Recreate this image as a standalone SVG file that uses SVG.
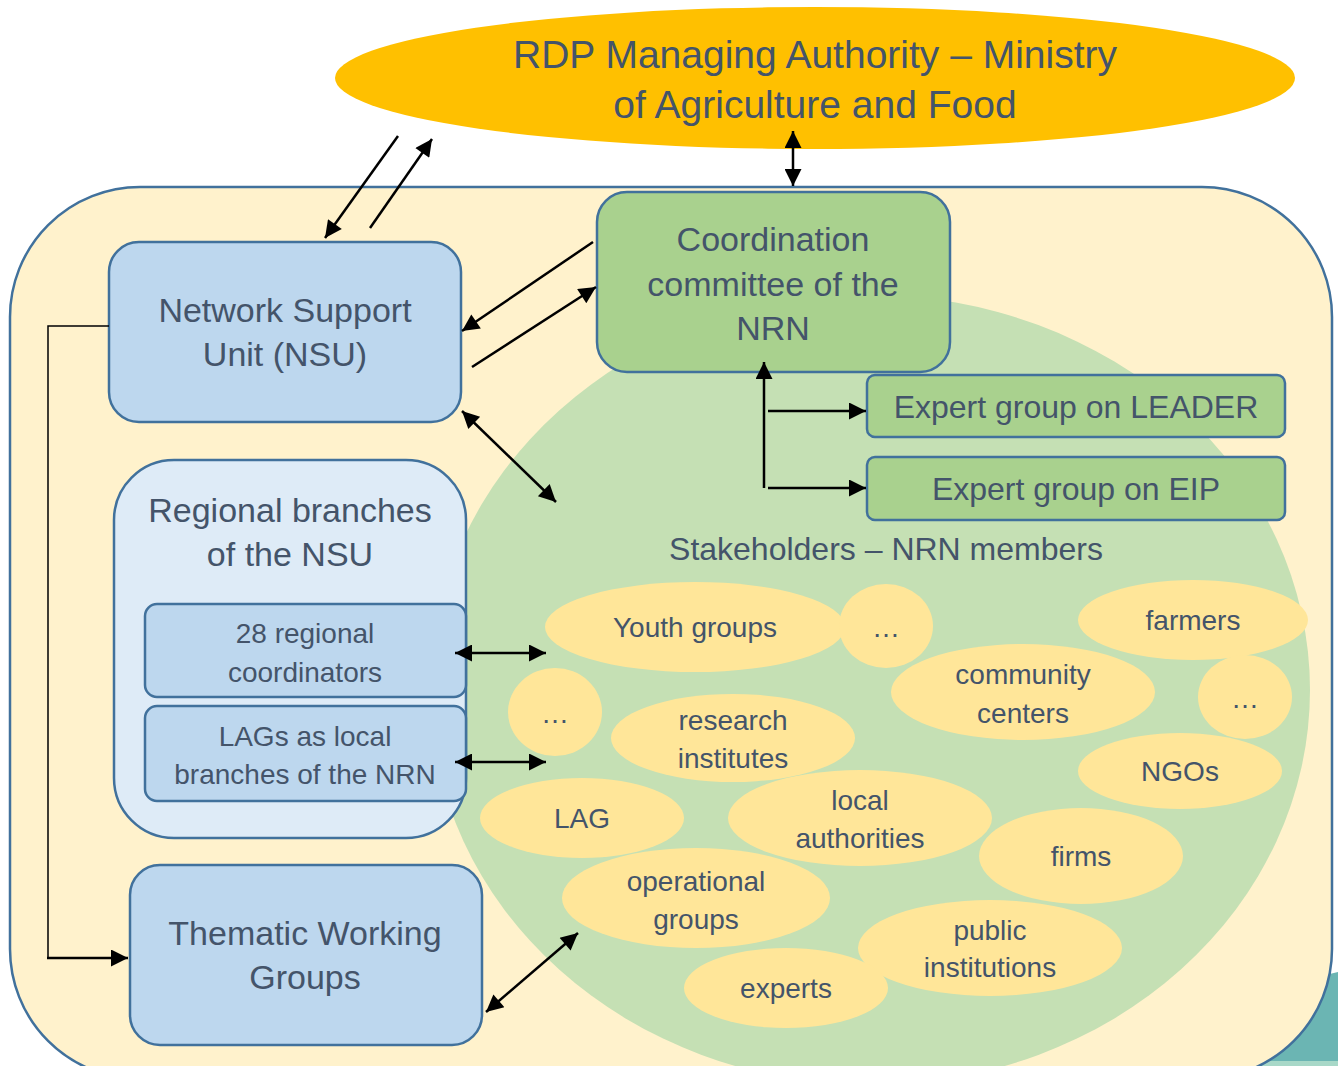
<svg xmlns="http://www.w3.org/2000/svg" width="1338" height="1066" viewBox="0 0 1338 1066">
<defs>
<style>
text{font-family:"Liberation Sans",Arial,sans-serif;fill:#44546a;text-anchor:middle}
.blue{fill:#bdd7ee;stroke:#41719c;stroke-width:2.5}
.green{fill:#a9d18e;stroke:#41719c;stroke-width:2.5}
.st{fill:#ffe699}
.big{font-size:34px}
.mid{font-size:28px}
.con line,.con path{stroke:#000;stroke-width:2.5;fill:none}
</style>
<marker id="ah" viewBox="0 0 10 10" refX="10" refY="5" markerWidth="21" markerHeight="17" markerUnits="userSpaceOnUse" orient="auto-start-reverse">
<path d="M0,0 L10,5 L0,10 z" fill="#000"/>
</marker>
</defs>
<rect width="1338" height="1066" fill="#fff"/>
<polygon points="1180,1010 1338,972 1338,1066 1180,1066" fill="#6bb5b3"/>
<rect x="1180" y="1061" width="158" height="5" fill="#a8d8c8"/>
<g id="outer">
<rect x="10" y="187" width="1322" height="892" rx="130" ry="130" fill="#fff2cc" stroke="#41719c" stroke-width="2.5"/>
</g>
<g id="stakeholders-area">
<ellipse cx="870" cy="690" rx="440" ry="395" fill="#c5e0b4"/>
<text x="886" y="560" style="font-size:32px">Stakeholders – NRN members</text>
</g>
<g id="managing-authority">
<ellipse cx="815" cy="78" rx="480" ry="71" fill="#ffc000"/>
<text x="815" y="68" style="font-size:39px">RDP Managing Authority – Ministry</text>
<text x="815" y="118" style="font-size:39px">of Agriculture and Food</text>
</g>
<g id="coordination">
<rect class="green" x="597" y="192" width="353" height="180" rx="30"/>
<text class="big" x="773" y="251">Coordination</text>
<text class="big" x="773" y="296">committee of the</text>
<text class="big" x="773" y="340">NRN</text>
</g>
<g id="nsu">
<rect class="blue" x="109" y="242" width="352" height="180" rx="30"/>
<text class="big" x="285" y="322">Network Support</text>
<text class="big" x="285" y="366">Unit (NSU)</text>
</g>
<g id="regional">
<rect x="114" y="460" width="352" height="378" rx="60" fill="#deebf7" stroke="#41719c" stroke-width="2.5"/>
<text class="big" x="290" y="522">Regional branches</text>
<text class="big" x="290" y="566">of the NSU</text>
</g>
<g id="coordinators">
<rect class="blue" x="145" y="604" width="321" height="93" rx="12"/>
<text class="mid" x="305" y="643">28 regional</text>
<text class="mid" x="305" y="682">coordinators</text>
</g>
<g id="lags">
<rect class="blue" x="145" y="706" width="321" height="95" rx="12"/>
<text class="mid" x="305" y="746">LAGs as local</text>
<text class="mid" x="305" y="784">branches of the NRN</text>
</g>
<g id="thematic">
<rect class="blue" x="130" y="865" width="352" height="180" rx="30"/>
<text class="big" x="305" y="945">Thematic Working</text>
<text class="big" x="305" y="989">Groups</text>
</g>
<g id="eg-leader">
<rect class="green" x="867" y="375" width="418" height="62" rx="8"/>
<text x="1076" y="418" style="font-size:32px">Expert group on LEADER</text>
</g>
<g id="eg-eip">
<rect class="green" x="867" y="457" width="418" height="63" rx="8"/>
<text x="1076" y="500" style="font-size:32px">Expert group on EIP</text>
</g>
<g id="members">
<g id="m-youth"><ellipse class="st" cx="695" cy="627" rx="150" ry="45"/><text class="mid" x="695" y="637">Youth groups</text></g>
<g id="m-dots1"><ellipse class="st" cx="886" cy="626" rx="47" ry="42"/><text class="mid" x="886" y="637">…</text></g>
<g id="m-farmers"><ellipse class="st" cx="1193" cy="620" rx="115" ry="40"/><text class="mid" x="1193" y="630">farmers</text></g>
<g id="m-community"><ellipse class="st" cx="1023" cy="692" rx="132" ry="48"/><text class="mid" x="1023" y="684">community</text><text class="mid" x="1023" y="723">centers</text></g>
<g id="m-dots2"><ellipse class="st" cx="1245" cy="697" rx="47" ry="42"/><text class="mid" x="1245" y="708">…</text></g>
<g id="m-dots3"><ellipse class="st" cx="555" cy="712" rx="47" ry="44"/><text class="mid" x="555" y="723">…</text></g>
<g id="m-research"><ellipse class="st" cx="733" cy="738" rx="122" ry="44"/><text class="mid" x="733" y="730">research</text><text class="mid" x="733" y="768">institutes</text></g>
<g id="m-ngos"><ellipse class="st" cx="1180" cy="771" rx="102" ry="38"/><text class="mid" x="1180" y="781">NGOs</text></g>
<g id="m-lag"><ellipse class="st" cx="582" cy="818" rx="102" ry="40"/><text class="mid" x="582" y="828">LAG</text></g>
<g id="m-local"><ellipse class="st" cx="860" cy="818" rx="132" ry="48"/><text class="mid" x="860" y="810">local</text><text class="mid" x="860" y="848">authorities</text></g>
<g id="m-firms"><ellipse class="st" cx="1081" cy="856" rx="102" ry="48"/><text class="mid" x="1081" y="866">firms</text></g>
<g id="m-operational"><ellipse class="st" cx="696" cy="898" rx="134" ry="50"/><text class="mid" x="696" y="891">operational</text><text class="mid" x="696" y="929">groups</text></g>
<g id="m-public"><ellipse class="st" cx="990" cy="948" rx="132" ry="48"/><text class="mid" x="990" y="940">public</text><text class="mid" x="990" y="977">institutions</text></g>
<g id="m-experts"><ellipse class="st" cx="786" cy="988" rx="102" ry="40"/><text class="mid" x="786" y="998">experts</text></g>
</g>
<g id="connectors" class="con">
<line x1="398" y1="136" x2="325" y2="238" marker-end="url(#ah)"/>
<line x1="370" y1="228" x2="432" y2="139" marker-end="url(#ah)"/>
<line x1="793" y1="131" x2="793" y2="186" marker-start="url(#ah)" marker-end="url(#ah)"/>
<line x1="593" y1="242" x2="462" y2="331" marker-end="url(#ah)"/>
<line x1="472" y1="367" x2="596" y2="287" marker-end="url(#ah)"/>
<line x1="462" y1="411" x2="556" y2="502" marker-start="url(#ah)" marker-end="url(#ah)"/>
<line x1="764" y1="488" x2="764" y2="362" marker-end="url(#ah)"/>
<line x1="768" y1="411" x2="866" y2="411" marker-end="url(#ah)"/>
<line x1="768" y1="488" x2="866" y2="488" marker-end="url(#ah)"/>
<line x1="455" y1="653" x2="546" y2="653" marker-start="url(#ah)" marker-end="url(#ah)"/>
<line x1="455" y1="762" x2="546" y2="762" marker-start="url(#ah)" marker-end="url(#ah)"/>
<line x1="486" y1="1012" x2="578" y2="933" marker-start="url(#ah)" marker-end="url(#ah)"/>
<path d="M109,326 H48 V958" style="stroke-width:1.5"/>
<line x1="47" y1="958" x2="128" y2="958" marker-end="url(#ah)"/>
</g>
</svg>
